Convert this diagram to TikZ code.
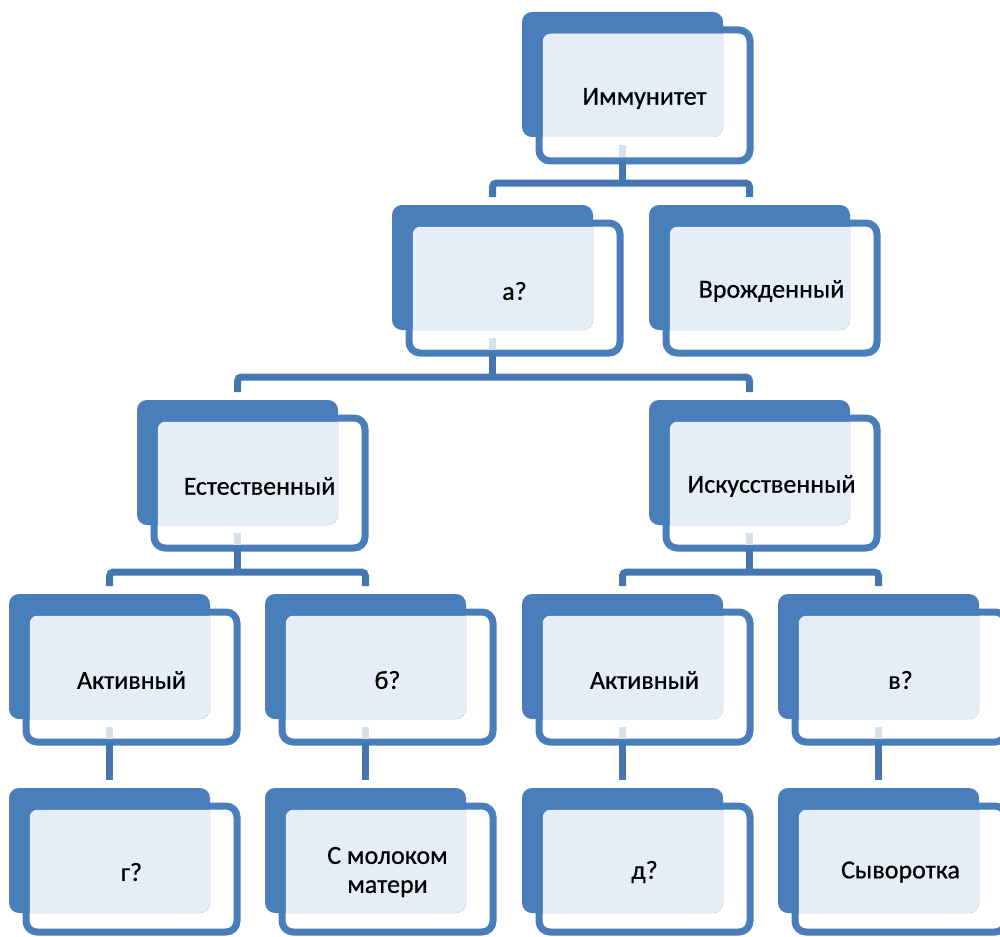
\documentclass[tikz,border=0pt]{standalone}
\usepackage{fontspec}
\setmainfont{Carlito}[FakeBold=0.6]
\usetikzlibrary{calc}
\definecolor{boxblue}{HTML}{4A7EBB}
\definecolor{conblue}{HTML}{4676B0}
\definecolor{lightfill}{HTML}{E5EDF6}
\definecolor{palecon}{HTML}{D6E1EF}
\tikzset{
  backbox/.style={fill=boxblue, rounded corners=10pt, minimum width=201pt, minimum height=125pt, anchor=north west, inner sep=0pt, outer sep=0pt},
  frontbox/.style={draw=boxblue, line width=7pt, rounded corners=11pt, minimum width=211pt, anchor=north west, inner sep=0pt, outer sep=0pt},
  labeltext/.style={align=center, inner sep=0pt, font=\fontsize{26}{29}\selectfont, text=black},
  conn/.style={draw=conblue, line width=7pt, rounded corners=4pt},
  paleconn/.style={draw=palecon, line width=7pt},
}
\newcommand\unitbox[5]{%
  \node[backbox] (#1b) at (#2,#3) {};
  \begin{scope}
    \clip[rounded corners=10pt] (#1b.north west) rectangle (#1b.south east);
    \fill[lightfill, rounded corners=8pt] (#2+20.5,#3+21.5) rectangle (#2+224.5,#3+18+#5-3.5);
  \end{scope}
  \node[frontbox, minimum height=#5pt] (#1) at (#2+17,#3+18) {};
  \node[labeltext] (#1l) at ($(#1.center)+(0,3)$) {#4};
  \coordinate (#1T) at ($(#1b.north)+(0,-8)$);
  \coordinate (#1S) at (#1b.south |- #1.south);
  \coordinate (#1P) at ($(#1b.south)+(0,8)$);
  \coordinate (#1Q) at ($(#1S)+(0,-3.5)$);
}
\begin{document}
\begin{tikzpicture}[x=1pt,y=-1pt]
\useasboundingbox (0,0) rectangle (1000,936);
\clip (0,0) rectangle (1000,936);
% level 1
\unitbox{imm}{522}{12}{Иммунитет}{131}
% level 2
\unitbox{a}{392}{205}{а?}{130}
\unitbox{vr}{649}{205}{Врожденный}{130}
% level 3
\unitbox{est}{137}{400}{Естественный}{130}
\unitbox{isk}{649}{400}{Искусственный}{130}
% level 4
\unitbox{acta}{9}{594}{Активный}{130}
\unitbox{b}{265}{594}{б?}{130}
\unitbox{actb}{522}{594}{Активный}{130}
\unitbox{v}{778}{594}{в?}{130}
% level 5
\unitbox{g}{9}{788}{г?}{126}
\unitbox{mol}{265}{788}{С молоком\\матери}{126}
\unitbox{d}{522}{788}{д?}{126}
\unitbox{syv}{778}{788}{Сыворотка}{126}
% bus lines
\coordinate (busA) at (0,183);
\coordinate (busB) at (0,377);
\coordinate (busC) at (0,572);
% pale parts of the connectors inside the boxes
\foreach \n in {imm,a,est,isk,acta,b,actb,v}{
  \draw[paleconn] (\n P) -- (\n Q);
}
% connectors
\draw[conn] (immS) -- (immS |- busA);
\draw[conn] (aT) |- (vrT |- busA) -- (vrT);
\draw[conn] (aS) -- (aS |- busB);
\draw[conn] (estT) |- (iskT |- busB) -- (iskT);
\draw[conn] (estS) -- (estS |- busC);
\draw[conn] (actaT) |- (bT |- busC) -- (bT);
\draw[conn] (iskS) -- (iskS |- busC);
\draw[conn] (actbT) |- (vT |- busC) -- (vT);
\draw[conn] (actaS) -- (gT);
\draw[conn] (bS) -- (molT);
\draw[conn] (actbS) -- (dT);
\draw[conn] (vS) -- (syvT);
\end{tikzpicture}
\end{document}
